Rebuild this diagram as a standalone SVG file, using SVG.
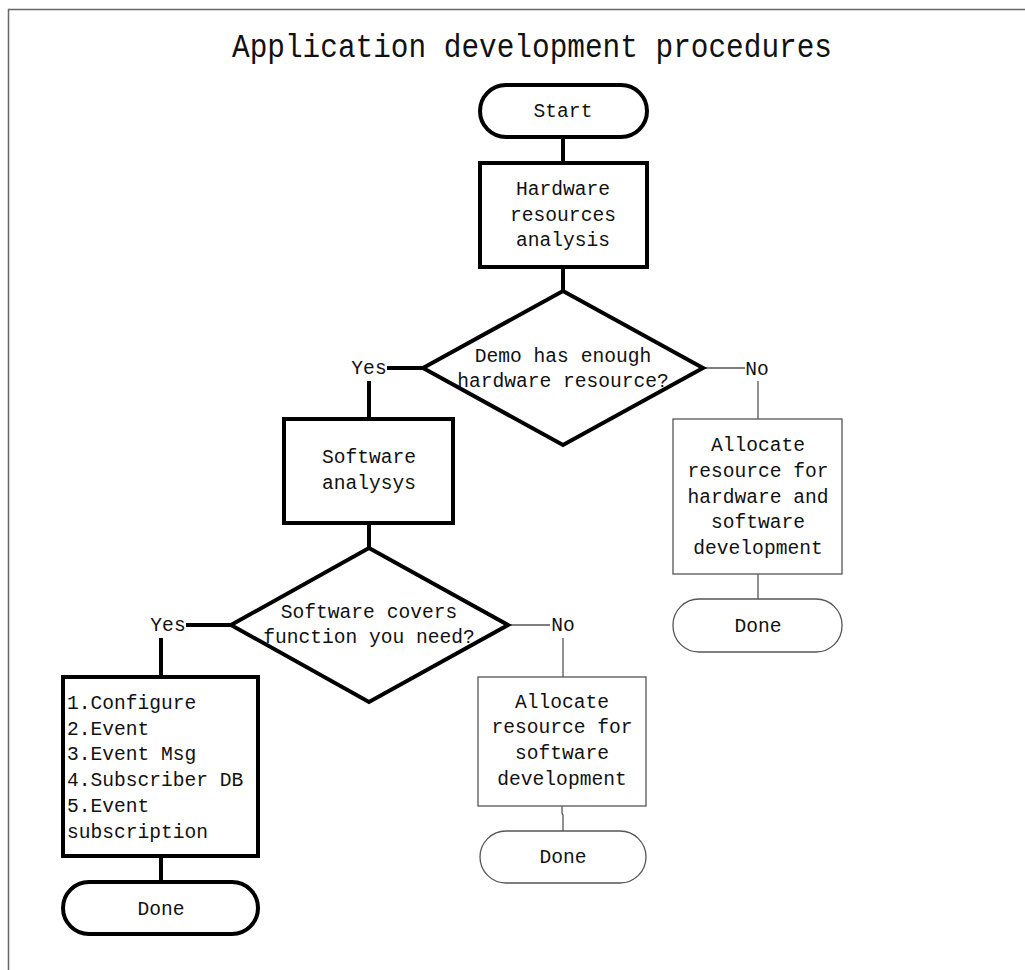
<svg xmlns="http://www.w3.org/2000/svg" width="1025" height="970" viewBox="0 0 1025 970">
<style>
  text { font-family: "Liberation Mono", "DejaVu Sans Mono", monospace; fill: #111; font-size: 19.6px; }
  .c { text-anchor: middle; }
  .thick { fill: #fff; stroke: #000; stroke-width: 4; stroke-linejoin: miter; }
  .thin { fill: #fff; stroke: #555; stroke-width: 1.3; }
  .lk { fill: none; stroke: #000; stroke-width: 4; }
  .ln { fill: none; stroke: #555; stroke-width: 1.3; }
  .frame { fill: none; stroke: #666; stroke-width: 1.5; }
</style>
<rect x="0" y="0" width="1025" height="970" fill="#fff"/>
<path class="frame" d="M8.5,970 V9.5 H1025"/>
<text id="title" x="232" y="57" font-size="33" textLength="600" lengthAdjust="spacingAndGlyphs" style="font-size:33px">Application development procedures</text>

<g id="connectors">
  <line class="lk" x1="563" y1="137" x2="563" y2="163"/>
  <line class="lk" x1="563" y1="267" x2="563" y2="291"/>
  <line class="lk" x1="387" y1="368" x2="423" y2="368"/>
  <line class="lk" x1="369" y1="381" x2="369" y2="419"/>
  <line class="lk" x1="369" y1="523" x2="369" y2="548"/>
  <line class="lk" x1="186" y1="625" x2="231" y2="625"/>
  <line class="lk" x1="161" y1="638" x2="161" y2="677"/>
  <line class="lk" x1="161" y1="856" x2="161" y2="882"/>
  <line class="ln" x1="703" y1="368" x2="745" y2="368"/>
  <line class="ln" x1="758" y1="381" x2="758" y2="419"/>
  <line class="ln" x1="758" y1="574" x2="758" y2="599"/>
  <line class="ln" x1="508" y1="625" x2="550" y2="625"/>
  <line class="ln" x1="563" y1="638" x2="563" y2="677"/>
  <polyline class="ln" points="562,806 562,813 563,815 563,831"/>
  <text class="c" x="369" y="374">Yes</text>
  <text class="c" x="168" y="631">Yes</text>
  <text class="c" x="757" y="375">No</text>
  <text class="c" x="563" y="631">No</text>
</g>

<g id="start">
  <rect class="thick" x="480" y="85" width="167" height="52" rx="26" ry="26"/>
  <text class="c" x="563" y="117">Start</text>
</g>

<g id="hw-analysis">
  <rect class="thick" x="480" y="163" width="167" height="104"/>
  <text class="c" x="563" y="195">Hardware</text>
  <text class="c" x="563" y="221">resources</text>
  <text class="c" x="563" y="246">analysis</text>
</g>

<g id="decision-hw">
  <polygon class="thick" points="563,291 703,368 563,445 423,368"/>
  <text class="c" x="563" y="362">Demo has enough</text>
  <text class="c" x="563" y="387">hardware resource?</text>
</g>

<g id="sw-analysis">
  <rect class="thick" x="284" y="419" width="169" height="104"/>
  <text class="c" x="369" y="463">Software</text>
  <text class="c" x="369" y="489">analysys</text>
</g>

<g id="decision-sw">
  <polygon class="thick" points="369,548 508,625 369,702 231,625"/>
  <text class="c" x="369" y="618">Software covers</text>
  <text class="c" x="369" y="643">function you need?</text>
</g>

<g id="steps">
  <rect class="thick" x="63" y="677" width="195" height="179"/>
  <text x="67" y="709">1.Configure</text>
  <text x="67" y="735">2.Event</text>
  <text x="67" y="760">3.Event Msg</text>
  <text x="67" y="786">4.Subscriber DB</text>
  <text x="67" y="812">5.Event</text>
  <text x="67" y="838">subscription</text>
</g>

<g id="done-left">
  <rect class="thick" x="63" y="882" width="195" height="52" rx="26" ry="26"/>
  <text class="c" x="161" y="915">Done</text>
</g>

<g id="alloc-hw-sw">
  <rect class="thin" x="673" y="419" width="169" height="155"/>
  <text class="c" x="758" y="451">Allocate</text>
  <text class="c" x="758" y="477">resource for</text>
  <text class="c" x="758" y="503">hardware and</text>
  <text class="c" x="758" y="528">software</text>
  <text class="c" x="758" y="554">development</text>
</g>

<g id="done-right">
  <rect class="thin" x="673" y="599" width="169" height="53" rx="26" ry="26"/>
  <text class="c" x="758" y="632">Done</text>
</g>

<g id="alloc-sw">
  <rect class="thin" x="478" y="677" width="168" height="129"/>
  <text class="c" x="562" y="708">Allocate</text>
  <text class="c" x="562" y="733">resource for</text>
  <text class="c" x="562" y="759">software</text>
  <text class="c" x="562" y="785">development</text>
</g>

<g id="done-mid">
  <rect class="thin" x="480" y="831" width="166" height="52" rx="26" ry="26"/>
  <text class="c" x="563" y="863">Done</text>
</g>
</svg>
